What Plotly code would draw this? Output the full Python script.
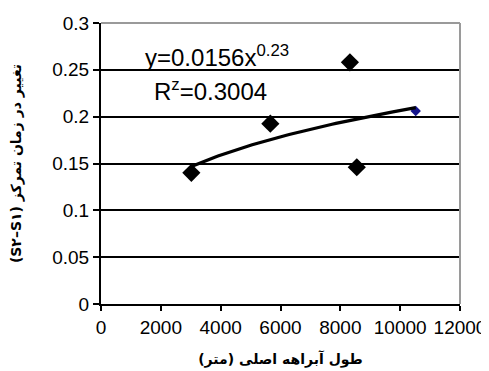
import numpy as np
import plotly.graph_objects as go

# Data
length_m = [3020, 5660, 8320, 8550]
delta_tc = [0.140, 0.1925, 0.258, 0.146]
extra_length_m = [10520]
extra_delta_tc = [0.206]

x_ticks = [0, 2000, 4000, 6000, 8000, 10000, 12000]
y_ticks = [0, 0.05, 0.1, 0.15, 0.2, 0.25, 0.3]

eq_text = "y=0.0156x<sup>0.23</sup>"
r2_text = "R<sup>z</sup>=0.3004"
x_title = "طول آبراهه اصلی (متر)"
y_title = "(S۲–S۱) تغییر در زمان تمرکز"

# Power trend line fitted to all points (as the spreadsheet did)
all_x = np.array(length_m + extra_length_m, dtype=float)
all_y = np.array(delta_tc + extra_delta_tc, dtype=float)
b, ln_a = np.polyfit(np.log(all_x), np.log(all_y), 1)
trend_x = np.linspace(all_x.min(), all_x.max(), 60)
trend_y = np.exp(ln_a) * trend_x ** b

fig = go.Figure()
fig.add_trace(go.Scatter(x=length_m, y=delta_tc, mode="markers",
                         marker=dict(symbol="diamond", size=14, color="black"),
                         showlegend=False))
fig.add_trace(go.Scatter(x=extra_length_m, y=extra_delta_tc, mode="markers",
                         marker=dict(symbol="diamond", size=8, color="#14148c"),
                         showlegend=False))
fig.add_trace(go.Scatter(x=trend_x, y=trend_y, mode="lines",
                         line=dict(color="black", width=3.2),
                         showlegend=False))

tick_font = dict(family="Liberation Sans, Arial, sans-serif", size=19, color="black")
ytitle_font = dict(family="DejaVu Sans", size=14, color="black")
xtitle_font = dict(family="DejaVu Sans", size=14, color="black")

# page body has an 8px default margin, so the figure is 8px smaller
fig.update_layout(
    width=481, height=363,
    margin=dict(l=93, r=29, t=15, b=67, autoexpand=False),
    paper_bgcolor="white", plot_bgcolor="white",
    xaxis=dict(range=[0, 12000], tickvals=x_ticks, ticktext=[str(v) for v in x_ticks],
               showgrid=False, zeroline=False, showline=True, linecolor="black", linewidth=2,
               ticks="outside", ticklen=5, tickwidth=1.5, tickcolor="black",
               tickfont=tick_font, automargin=False,
               title=dict(text="<b>" + x_title + "</b>", font=xtitle_font, standoff=17)),
    yaxis=dict(range=[0, 0.3], tickvals=y_ticks, ticktext=[f"{v:g}" for v in y_ticks],
               showgrid=True, gridcolor="black", gridwidth=1.8, zeroline=False,
               showline=True, linecolor="black", linewidth=2,
               ticks="outside", ticklen=6, tickwidth=1.5, tickcolor="black",
               tickfont=tick_font, automargin=False,
               title=dict(text="<b>" + y_title + "</b>", font=ytitle_font, standoff=27)),
    shapes=[
        dict(type="line", xref="paper", yref="paper", x0=0, x1=1, y0=1, y1=1,
             line=dict(color="#9a9a9a", width=2), layer="above"),
        dict(type="line", xref="paper", yref="paper", x0=1, x1=1, y0=0, y1=1,
             line=dict(color="#9a9a9a", width=2), layer="above"),
    ],
    annotations=[
        dict(text=eq_text, xref="paper", yref="paper", x=0.117, y=0.884,
             xanchor="left", yanchor="middle", showarrow=False,
             font=dict(family="Liberation Sans, Arial, sans-serif", size=24, color="black")),
        dict(text=r2_text, xref="paper", yref="paper", x=0.142, y=0.762,
             xanchor="left", yanchor="middle", showarrow=False,
             font=dict(family="Liberation Sans, Arial, sans-serif", size=24, color="black")),
    ],
)

fig.write_html("out.html")
